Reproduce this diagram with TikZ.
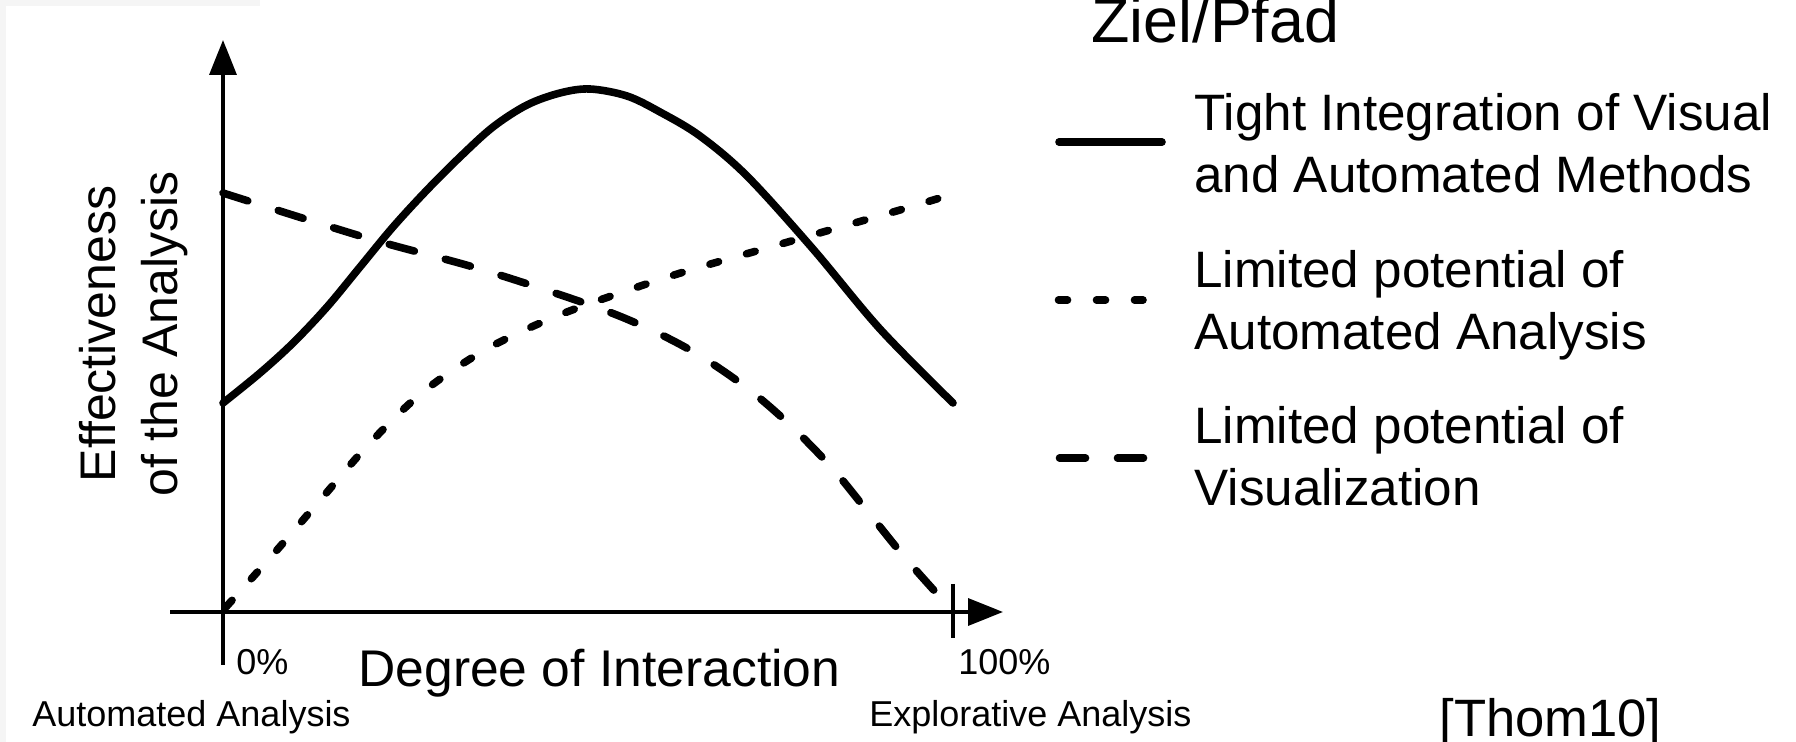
\documentclass[tikz,border=0pt]{standalone}
\usepackage{fontspec}
\setmainfont{Liberation Sans}
\usetikzlibrary{arrows.meta}
\begin{document}
\begin{tikzpicture}[x=0.5pt,y=-0.5pt,
  axisline/.style={line width=1.7pt},
  axisarrow/.style={axisline,-{Triangle[length=17.5pt,width=13.5pt]}},
  solidcurve/.style={line width=3.8pt,line cap=round},
  dotcurve/.style={line width=3.8pt,line cap=round,dash pattern=on 4.5pt off 14.5pt},
  dashcurve/.style={line width=3.8pt,line cap=round,dash pattern=on 13pt off 16pt},
  txt/.style={inner sep=0pt,anchor=base west},
  bigtxt/.style={txt,font=\fontsize{25.6}{31}\selectfont},
  smalltxt/.style={txt,font=\fontsize{18}{22}\selectfont},
  ylbl/.style={inner sep=0pt,anchor=base,rotate=90,font=\fontsize{25}{31}\selectfont},
]
\useasboundingbox (0,0) rectangle (1796,742);
\fill[white] (0,0) rectangle (1796,742);
\fill[black!4] (0,0) rectangle (6,742);
\fill[black!4] (0,0) rectangle (260,6);

% axes
\coordinate (ybot) at (223,665);
\coordinate (ytop) at (223,40);
\coordinate (xleft) at (170,612);
\coordinate (xright) at (1003,612);
\coordinate (tickt) at (953,584);
\coordinate (tickb) at (953,638);
\draw[axisarrow] (ybot) -- (ytop);
\draw[axisarrow] (xleft) -- (xright);
\draw[axisline] (tickt) -- (tickb);

% curves
\draw[solidcurve] plot[smooth,tension=0.55] coordinates {
  (223,403) (260,373) (293,343) (327,307) (360,267) (393,227) (427,190)
  (460,157) (493,127) (527,105) (560,93) (590,89) (627,96) (660,112)
  (700,136) (747,176) (813,249) (880,329) (953,403)};
\draw[dotcurve] plot[smooth,tension=0.55] coordinates {
  (226,607) (277,550) (322,498) (370,443) (423,392) (485,350) (552,318)
  (620,293) (687,271) (760,250) (830,230) (900,210) (953,194)};
\draw[dashcurve] plot[smooth,tension=0.55] coordinates {
  (223,193) (367,238) (480,269) (590,305) (647,328) (697,354) (747,388)
  (790,425) (832,468) (868,512) (907,560) (950,608)};

% axis labels
\node[ylbl] (ylab1) at (115,334) {Effectiveness};
\node[ylbl] (ylab2) at (177,334) {of the Analysis};
\node[smalltxt] (zero) at (236,675) {0\%};
\node[txt,font=\fontsize{25.8}{31}\selectfont] (xlab) at (358,687) {Degree of Interaction};
\node[smalltxt] (hundred) at (958,675) {100\%};
\node[smalltxt] (autoA) at (32,727) {Automated Analysis};
\node[smalltxt] (explA) at (869,727) {Explorative Analysis};

% title and source
\node[txt,font=\fontsize{31.4}{36}\selectfont] (title) at (1091,43) {Ziel/Pfad};
\node[txt,font=\fontsize{26.3}{31}\selectfont] (src) at (1439,737) {[Thom10]};

% legend
\coordinate (l1a) at (1059,142); \coordinate (l1b) at (1162,142);
\coordinate (l2a) at (1058.5,300); \coordinate (l2b) at (1143,300);
\coordinate (l3a) at (1059.5,458); \coordinate (l3b) at (1146.5,458);
\draw[solidcurve] (l1a) -- (l1b);
\draw[dotcurve] (l2a) -- (l2b);
\draw[dashcurve] (l3a) -- (l3b);
\node[bigtxt] (leg1a) at (1194,131) {Tight Integration of Visual};
\node[bigtxt] (leg1b) at (1194,193) {and Automated Methods};
\node[bigtxt] (leg2a) at (1194,288) {Limited potential of};
\node[bigtxt] (leg2b) at (1194,350) {Automated Analysis};
\node[bigtxt] (leg3a) at (1194,444) {Limited potential of};
\node[bigtxt] (leg3b) at (1194,506) {Visualization};
\end{tikzpicture}
\end{document}
